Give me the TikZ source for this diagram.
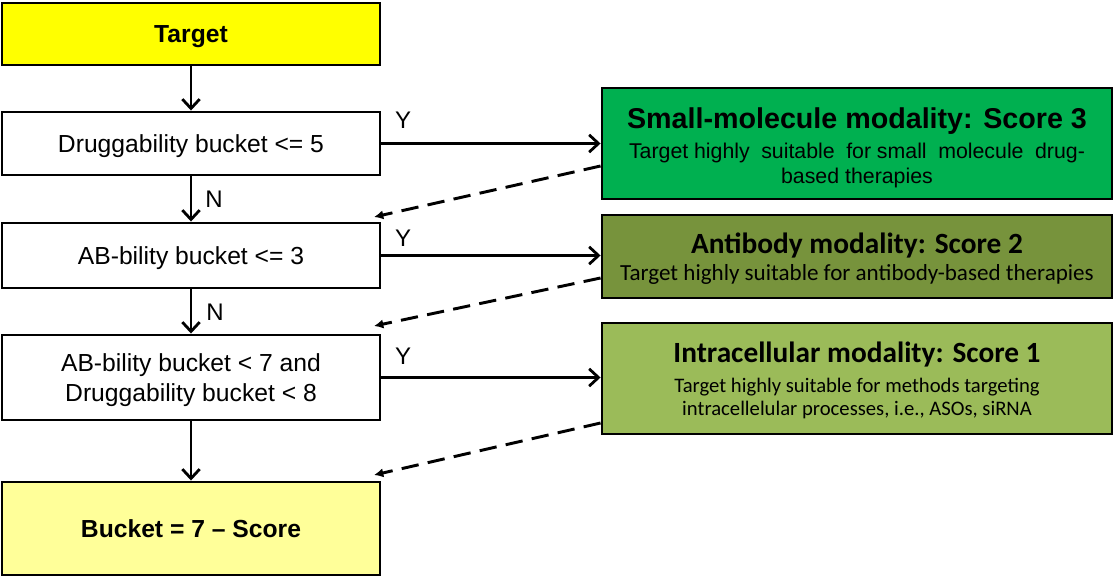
\documentclass[tikz,border=0pt]{standalone}
\usepackage{fontspec}
\setmainfont{Liberation Sans}
\newfontfamily\calfont{Carlito}
\usetikzlibrary{arrows.meta,calc}
\definecolor{tyellow}{HTML}{FFFF00}
\definecolor{lyellow}{HTML}{FFFF99}
\definecolor{smgreen}{HTML}{00B050}
\definecolor{abgreen}{HTML}{77933C}
\definecolor{icgreen}{HTML}{9BBB59}
\begin{document}
\begin{tikzpicture}[x=0.75pt,y=-0.75pt,
  box/.style={draw=black, line width=2.2pt, rectangle, inner sep=0pt, align=center, text=black, text depth=0pt},
  lbox/.style={box, minimum width=283.5pt, fill=white, font=\fontsize{18.5}{22.5}\selectfont, text height=13.25pt},
  rbox/.style={box, minimum width=382.5pt},
  flow/.style={line width=2.1pt, -{Straight Barb[length=7pt,width=13pt]}},
  back/.style={line width=2.2pt, dash pattern=on 13pt off 7pt, -{Latex[length=7pt,width=7pt]}},
  lbl/.style={inner sep=0pt, font=\fontsize{18}{20}\selectfont}
]
\useasboundingbox (0,0) rectangle (1114,577);

% left column
\node[lbox, fill=tyellow, minimum height=46.5pt, font=\fontsize{18.5}{22.5}\selectfont\bfseries] (target) at (191,34) {Target};
\node[lbox, minimum height=47.25pt] (drug) at (191,143.5) {Druggability bucket <= 5};
\node[lbox, minimum height=48.75pt] (ab) at (191,255.5) {AB-bility bucket <= 3};
\node[lbox, minimum height=63.75pt, text height=35.75pt] (abdr) at (191,377.5)
  {AB-bility bucket < 7 and\\ Druggability bucket < 8};
\node[lbox, fill=lyellow, minimum height=69.75pt, font=\fontsize{18.5}{22.5}\selectfont\bfseries] (bucket) at (191,528.5)
  {Bucket = 7 -- Score};

% right column
\node[rbox, fill=smgreen, minimum height=83.25pt, font=\fontsize{16}{18.75}\selectfont, text height=59.6pt] (small) at (857,143.5)
  {\fontsize{21.5}{24}\selectfont\bfseries Small-molecule modality: Score 3\\[3.75pt]
   \makebox[342pt][s]{Target highly \ suitable \ for small \ molecule \ drug-}\\
   based therapies};
\node[rbox, fill=abgreen, minimum height=62.25pt, font=\calfont\fontsize{17.3}{20.25}\selectfont, text height=35.9pt] (anti) at (857,256.5)
  {\fontsize{22}{24}\selectfont\bfseries Antibody modality: Score 2\\
   Target highly suitable for antibody-based therapies};
\node[rbox, fill=icgreen, minimum height=83.25pt, font=\calfont\fontsize{15.5}{17.25}\selectfont, text height=56.2pt] (intra) at (857,378.5)
  {\fontsize{22}{24}\selectfont\bfseries Intracellular modality: Score 1\\[5.25pt]
   Target highly suitable for methods targeting\\
   intracellelular processes, i.e., ASOs, siRNA};

% vertical flow
\draw[flow] (target.south) -- (drug.north);
\draw[flow] (drug.south) -- (ab.north);
\draw[flow] (ab.south) -- (abdr.north);
\draw[flow] (abdr.south) -- (bucket.north);

% yes arrows
\draw[flow] (drug.east) -- (drug.east -| small.west);
\draw[flow] (ab.east) -- (ab.east -| anti.west);
\draw[flow] (abdr.east) -- (abdr.east -| intra.west);

% labels
\node[lbl] (y1) at (403,120) {Y};
\node[lbl] (y2) at (403,238) {Y};
\node[lbl] (y3) at (403,356) {Y};
\node[lbl] (n1) at (214,199) {N};
\node[lbl] (n2) at (215,312) {N};

% dashed back arrows
\coordinate (e1) at (374,217);
\coordinate (e2) at (374,326);
\coordinate (e3) at (374,475);
\draw[back] ($(small.west)+(0,22.5)$) -- (e1);
\draw[back] ($(anti.west)+(0,21.5)$) -- (e2);
\draw[back] ($(intra.west)+(0,44.5)$) -- (e3);
\end{tikzpicture}
\end{document}
